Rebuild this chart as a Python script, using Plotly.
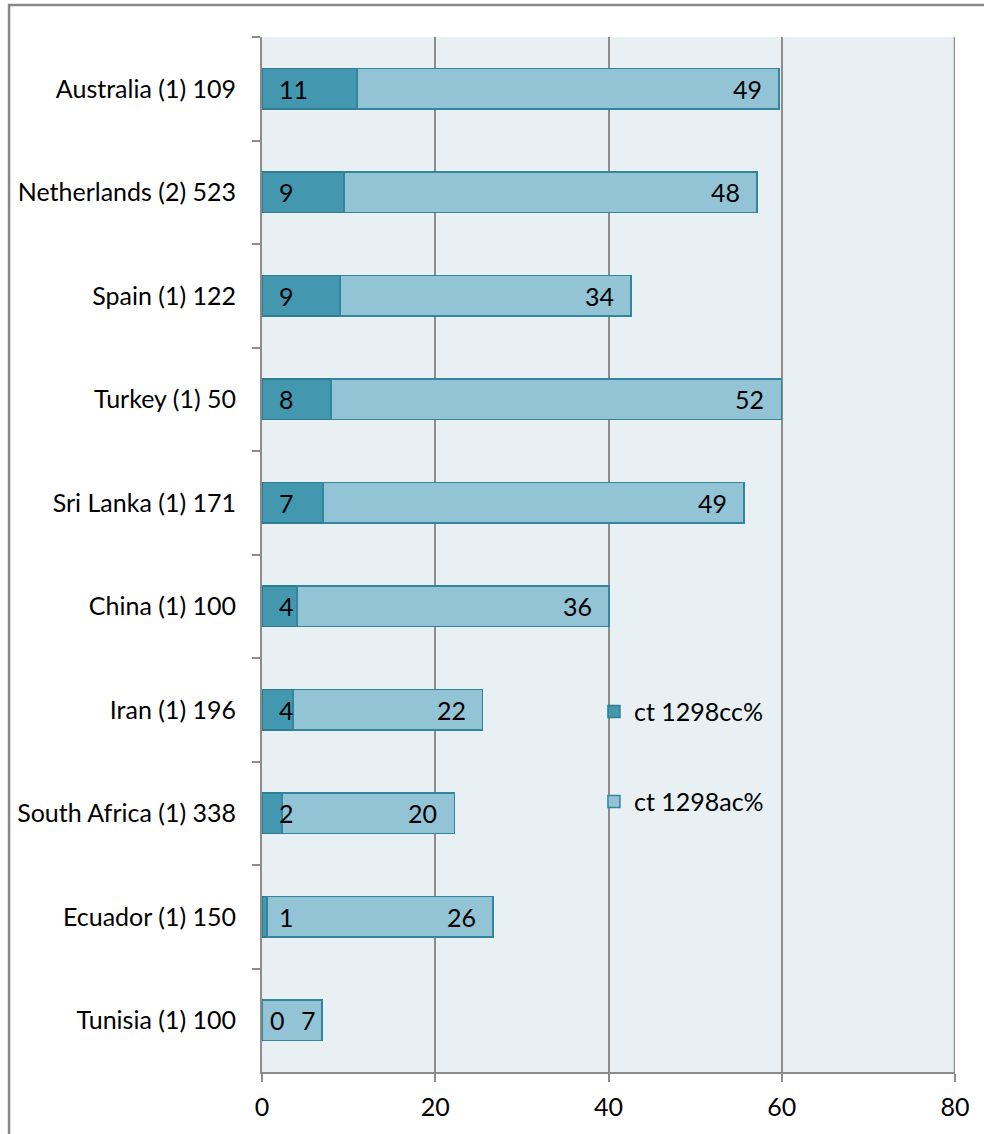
import plotly.graph_objects as go

countries = ["Australia (1) 109", "Netherlands (2) 523", "Spain (1) 122", "Turkey (1) 50",
             "Sri Lanka (1) 171", "China (1) 100", "Iran (1) 196", "South Africa (1) 338",
             "Ecuador (1) 150", "Tunisia (1) 100"]
cc_pct = [10.97, 9.47, 9.0, 7.97, 7.04, 4.04, 3.58, 2.3, 0.58, 0.0]
ac_pct = [48.7, 47.7, 33.6, 52.0, 48.6, 36.0, 21.9, 19.9, 26.1, 6.9]
x_ticks = [0, 20, 40, 60, 80]

FONT = "Lato"
FS = 25
DARK = "#4398AF"
LIGHT = "#93C4D6"
EDGE = "#31859C"
GRID = "#8C8C8C"

fig = go.Figure()
fig.add_trace(go.Bar(y=countries, x=cc_pct, orientation="h", name="ct 1298cc%",
                     marker=dict(color=DARK, line=dict(color="#2E7D93", width=1.5)),
                     legend="legend"))
fig.add_trace(go.Bar(y=countries, x=ac_pct, orientation="h", name="ct 1298ac%",
                     marker=dict(color=LIGHT, line=dict(color=EDGE, width=1.5)),
                     legend="legend2"))

for c, a, b in zip(countries, cc_pct, ac_pct):
    lshift = 15 if round(a) > 0 else 6
    fig.add_annotation(x=0, y=c, text=f"{a:.0f}", xanchor="left", yanchor="middle",
                       xshift=lshift, showarrow=False, font=dict(family=FONT, size=FS, color="black"))
    rshift = -15 if round(b) >= 10 else -4
    fig.add_annotation(x=a + b, y=c, text=f"{b:.0f}", xanchor="right", yanchor="middle",
                       xshift=rshift, showarrow=False, font=dict(family=FONT, size=FS, color="black"))

fig.update_layout(
    width=984, height=1134,
    margin=dict(l=262, r=29, t=37, b=62),
    barmode="stack", bargap=0.61,
    plot_bgcolor="#E8F0F4", paper_bgcolor="white",
    font=dict(family=FONT, size=FS, color="black"),
    legend=dict(x=0.479, y=0.348, xanchor="left", yanchor="middle", bgcolor="rgba(0,0,0,0)",
                font=dict(family=FONT, size=FS)),
    legend2=dict(x=0.479, y=0.261, xanchor="left", yanchor="middle", bgcolor="rgba(0,0,0,0)",
                 font=dict(family=FONT, size=FS)),
    showlegend=True,
)
fig.update_xaxes(range=[0, 80], tickvals=x_ticks, showgrid=True, gridcolor=GRID, gridwidth=1.5,
                 showline=True, linecolor=GRID, linewidth=2, ticks="outside", ticklen=8,
                 tickcolor=GRID, tickwidth=2, zeroline=False, mirror=False,
                 ticklabelstandoff=4, tickfont=dict(family=FONT, size=FS))
fig.update_yaxes(categoryorder="array", categoryarray=countries, autorange="reversed",
                 showline=True, linecolor=GRID, linewidth=2, ticks="outside", ticklen=8,
                 tickcolor=GRID, tickwidth=2, tickson="boundaries", showgrid=False,
                 ticklabelstandoff=19, tickfont=dict(family=FONT, size=FS))

# right edge line at 80
fig.add_shape(type="line", xref="x", yref="paper", x0=80, x1=80, y0=0, y1=1,
              line=dict(color=GRID, width=2.5))
# outer chart border
fig.add_shape(type="rect", xref="paper", yref="paper", x0=-0.365, x1=1.2, y0=-0.2, y1=1.0309,
              line=dict(color="#888888", width=2.5), fillcolor="rgba(0,0,0,0)")

fig.write_html("out.html")
